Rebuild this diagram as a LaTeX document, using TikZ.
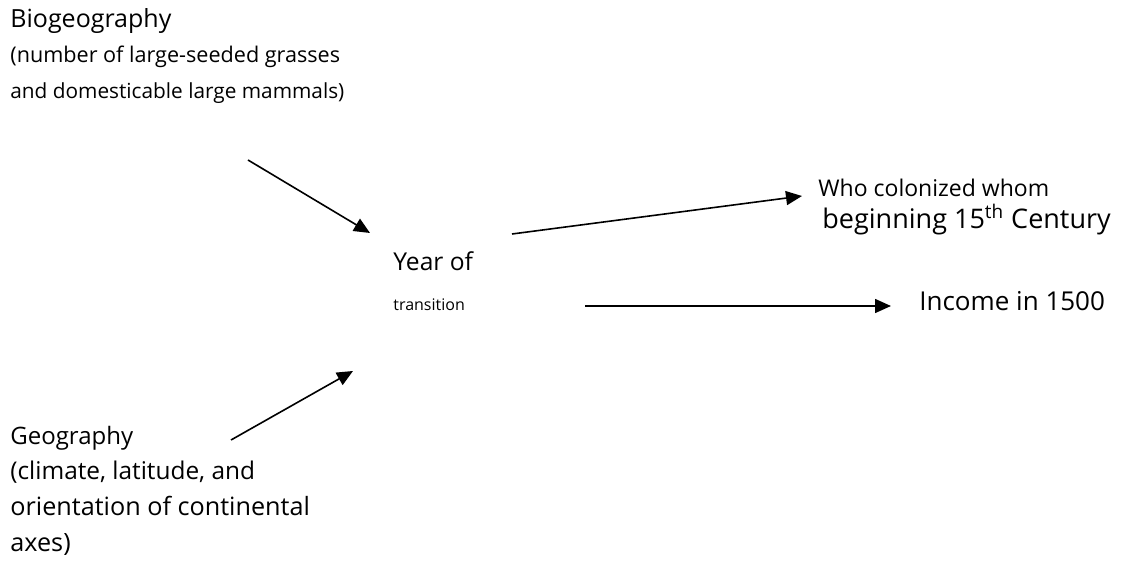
\documentclass[tikz,border=0pt]{standalone}
\usepackage{fontspec}
\setmainfont{Open Sans}
\usetikzlibrary{arrows.meta}
\newcommand{\fsz}[1]{\fontsize{#1}{#1}\selectfont}
\begin{document}
\begin{tikzpicture}[x=0.5pt,y=-0.5pt,
  lbl/.style={anchor=base west,inner sep=0pt},
  arr/.style={line width=0.8pt,-{Triangle[length=8pt,width=7pt]}}]
\useasboundingbox (0,0) rectangle (1148,588);
\node[lbl,font=\fsz{12.5}] (b1) at (10,28) {Biogeography};
\node[lbl,font=\fsz{10.8}] (b2) at (10,63) {(number of large-seeded grasses};
\node[lbl,font=\fsz{10.4}] (b3) at (10,99) {and domesticable large mammals)};
\node[lbl,font=\fsz{11.5}] (w1) at (818,197) {Who colonized whom};
\node[lbl,font=\fsz{13.5}] (w2) at (822,229) {beginning 15\textsuperscript{th} Century};
\node[lbl,font=\fsz{12.3}] (y1) at (393,271) {Year of};
\node[lbl,font=\fsz{8}] (y2) at (393,311) {transition};
\node[lbl,font=\fsz{13}] (inc) at (919,311) {Income in 1500};
\node[lbl,font=\fsz{12}] (g1) at (10,445) {Geography};
\node[lbl,font=\fsz{12.2}] (g2) at (10,480) {(climate, latitude, and};
\node[lbl,font=\fsz{12.6}] (g3) at (10,516) {orientation of continental};
\node[lbl,font=\fsz{12.6}] (g4) at (10,552) {axes)};
\coordinate (a1s) at (248,160); \coordinate (a1e) at (370,233);
\coordinate (a2s) at (512,234); \coordinate (a2e) at (802,196);
\coordinate (a3s) at (585,306); \coordinate (a3e) at (891,306);
\coordinate (a4s) at (231,440); \coordinate (a4e) at (353,371);
\draw[arr] (a1s) -- (a1e);
\draw[arr] (a2s) -- (a2e);
\draw[arr] (a3s) -- (a3e);
\draw[arr] (a4s) -- (a4e);
\end{tikzpicture}
\end{document}
